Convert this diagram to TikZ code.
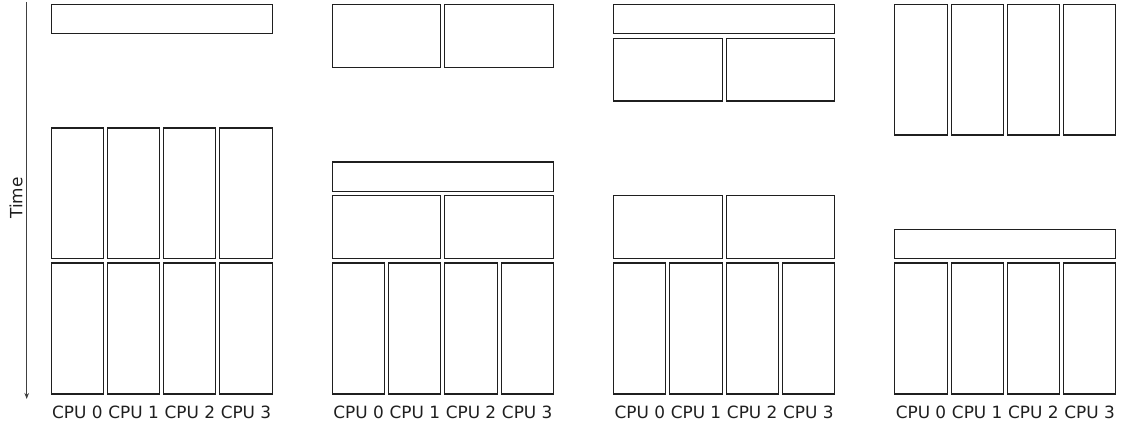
\documentclass[tikz,border=0pt]{standalone}
\usepackage{fontspec}
\setmainfont{DejaVu Sans}
\usetikzlibrary{arrows.meta}
\tikzset{
  blk/.style={draw=black!88, line width=1.1pt, inner sep=0pt, outer sep=0pt, rectangle},
  cpulabel/.style={font=\fontsize{16.9}{20}\selectfont, text=black!88, inner sep=0pt, anchor=center},
  timeaxis/.style={draw=black!75, line width=1.1pt, -{Stealth[length=6pt,width=4.5pt]}}
}
% \blk{name}{x1}{y1}{x2}{y2}: a box between two corners (1 unit = 1pt, y downwards)
\newcommand\blk[5]{\node[blk, minimum width={(#4)-(#2)}, minimum height={(#5)-(#3)}]
  (#1) at ({((#2)+(#4))/2},{((#3)+(#5))/2}) {};}
% a full-width bar, two half-width boxes and four CPU columns, relative to panel left #2
\newcommand\fullbar[4]{\blk{#1}{#2}{#3}{#2+220.8}{#4}}
\newcommand\halves[4]{\blk{#1a}{#2}{#3}{#2+108.4}{#4}\blk{#1b}{#2+112.4}{#3}{#2+220.8}{#4}}
\newcommand\cols[4]{%
  \blk{#1a}{#2}{#3}{#2+52.2}{#4}%
  \blk{#1b}{#2+56.2}{#3}{#2+108.4}{#4}%
  \blk{#1c}{#2+112.4}{#3}{#2+164.6}{#4}%
  \blk{#1d}{#2+168.6}{#3}{#2+220.8}{#4}}
\newcommand\cpus[2]{%
  \node[cpulabel] (#1a) at (#2+26.1,412) {CPU 0};
  \node[cpulabel] (#1b) at (#2+82.3,412) {CPU 1};
  \node[cpulabel] (#1c) at (#2+138.5,412) {CPU 2};
  \node[cpulabel] (#1d) at (#2+194.7,412) {CPU 3};}
\begin{document}
\begin{tikzpicture}[x=1pt,y=-1pt]
\useasboundingbox (0,0) rectangle (1121,425);

% time axis
\coordinate (tstart) at (26.7,2);
\coordinate (tend) at (26.7,399);
\draw[timeaxis] (tstart) -- (tend);
\node[cpulabel, rotate=90] (time) at (16,198) {Time};

% panel 1
\def\px{51.3}
\fullbar{pA1}{\px}{4.4}{33.7}
\cols{pA2}{\px}{128}{258.5}
\cols{pA3}{\px}{263}{394}
\cpus{lA}{\px}

% panel 2
\def\px{332.5}
\halves{pB1}{\px}{4.4}{67.7}
\fullbar{pB2}{\px}{162}{191.3}
\halves{pB3}{\px}{195.7}{258.5}
\cols{pB4}{\px}{263}{394}
\cpus{lB}{\px}

% panel 3
\def\px{613.7}
\fullbar{pC1}{\px}{4.4}{33.7}
\halves{pC2}{\px}{38.3}{101}
\halves{pC3}{\px}{195.7}{258.5}
\cols{pC4}{\px}{263}{394}
\cpus{lC}{\px}

% panel 4
\def\px{894.9}
\cols{pD1}{\px}{4.4}{135}
\fullbar{pD2}{\px}{229.3}{258.5}
\cols{pD3}{\px}{263}{394}
\cpus{lD}{\px}
\end{tikzpicture}
\end{document}
